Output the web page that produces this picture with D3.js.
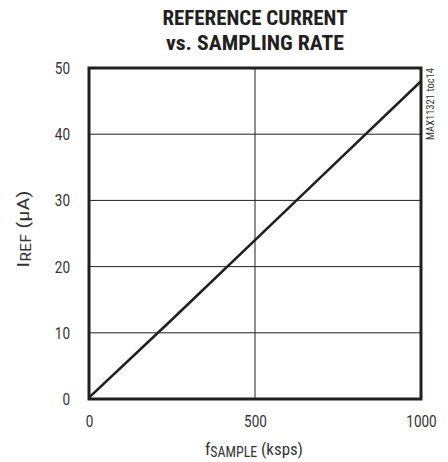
<!DOCTYPE html>
<html><head><meta charset="utf-8">
<script src="https://cdn.jsdelivr.net/npm/d3@7"></script>
<style>
body{margin:0;background:#fff;}
svg{display:block;}
text{font-family:"Liberation Sans Narrow","Arial Narrow","Roboto Condensed","Roboto","Liberation Sans",sans-serif;}
</style></head>
<body>
<svg id="c" width="448" height="462"></svg>
<script>
const titleLines = ["REFERENCE CURRENT", "vs. SAMPLING RATE"];
const xTicks = [0, 500, 1000];
const yTicks = [0, 10, 20, 30, 40, 50];
const sampleRate = [0, 250, 500, 750, 1000];
const refCurrent = [0.2, 12, 24, 36, 48];

const svg = d3.select("#c");
const ink = "#231f20";
const m = {l: 89, r: 421, t: 68, b: 399};
const x = d3.scaleLinear().domain([0, 1000]).range([m.l, m.r]);
const y = d3.scaleLinear().domain([0, 50]).range([m.b, m.t]);

// title
svg.selectAll(".title").data(titleLines).enter().append("text")
  .attr("x", 255).attr("y", (d, i) => 25 + i * 25)
  .attr("text-anchor", "middle").attr("font-weight", "bold")
  .attr("font-size", 21).attr("fill", ink)
  .attr("textLength", (d, i) => i === 0 ? 185 : 178).attr("lengthAdjust", "spacingAndGlyphs")
  .text(d => d);

// grid
svg.append("g").selectAll("line").data(yTicks.filter(v => v > 0 && v < 50)).enter().append("line")
  .attr("x1", m.l).attr("x2", m.r).attr("y1", d => y(d)).attr("y2", d => y(d))
  .attr("stroke", ink).attr("stroke-width", 1);
svg.append("g").selectAll("line").data(xTicks.filter(v => v > 0 && v < 1000)).enter().append("line")
  .attr("y1", m.t).attr("y2", m.b).attr("x1", d => x(d)).attr("x2", d => x(d))
  .attr("stroke", ink).attr("stroke-width", 1);

function styleTicks(sel) {
  sel.selectAll("text").attr("font-size", 17).attr("fill", "#333")
    .style("font-family", '"Liberation Sans Narrow","Arial Narrow","Roboto",sans-serif')
    .attr("textLength", d => String(d).length * 7.6).attr("lengthAdjust", "spacingAndGlyphs");
}
const yAxis = svg.append("g").attr("transform", `translate(${m.l},0)`)
  .call(d3.axisLeft(y).tickValues(yTicks).tickFormat(d3.format("d")).tickSize(0).tickPadding(19));
yAxis.select(".domain").remove();
styleTicks(yAxis);

const xAxis = svg.append("g").attr("transform", `translate(0,${m.b})`)
  .call(d3.axisBottom(x).tickValues(xTicks).tickFormat(d3.format("d")).tickSize(0).tickPadding(16));
xAxis.select(".domain").remove();
styleTicks(xAxis);

// frame
svg.append("rect").attr("x", m.l).attr("y", m.t)
  .attr("width", m.r - m.l).attr("height", m.b - m.t)
  .attr("fill", "none").attr("stroke", ink).attr("stroke-width", 3);

// line
const pts = sampleRate.map((d, i) => [d, refCurrent[i]]);
svg.append("path").datum(pts)
  .attr("d", d3.line().x(d => x(d[0])).y(d => y(d[1])))
  .attr("fill", "none").attr("stroke", ink).attr("stroke-width", 2.6);

// x axis title
const xt = svg.append("text").attr("x", 254).attr("y", 455).attr("text-anchor", "middle")
  .attr("font-size", 17).attr("fill", "#333")
  .attr("textLength", 98).attr("lengthAdjust", "spacingAndGlyphs");
xt.append("tspan").text("f");
xt.append("tspan").attr("font-size", 14).attr("dy", 2).text("SAMPLE");
xt.append("tspan").attr("dy", -2).text(" (ksps)");

// y axis title
const yt = svg.append("text").attr("transform", "translate(29,229) rotate(-90)")
  .attr("text-anchor", "middle").attr("font-size", 17).attr("fill", "#333")
  .attr("textLength", 77).attr("lengthAdjust", "spacingAndGlyphs");
yt.append("tspan").text("I");
yt.append("tspan").attr("font-size", 14).attr("dy", 2).text("REF");
yt.append("tspan").attr("dy", -2).text(" (µA)");

// part number
svg.append("text").attr("transform", "translate(434,68) rotate(-90)")
  .attr("text-anchor", "end").attr("font-size", 11).attr("fill", "#333")
  .attr("textLength", 72).attr("lengthAdjust", "spacingAndGlyphs")
  .text("MAX11321 toc14");
</script>
</body></html>
